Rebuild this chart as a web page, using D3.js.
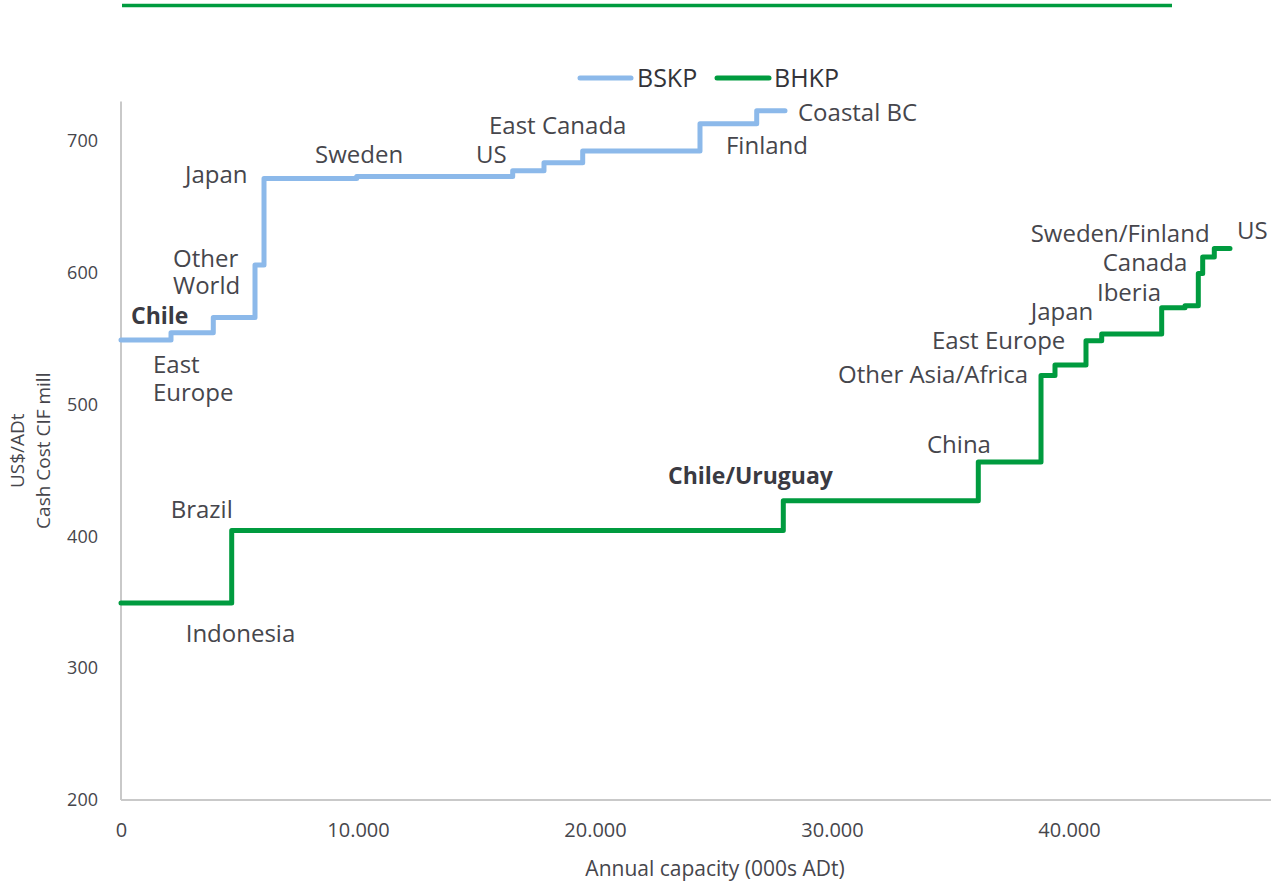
<!DOCTYPE html>
<html>
<head>
<meta charset="utf-8">
<script src="https://cdn.jsdelivr.net/npm/d3@7/dist/d3.min.js"></script>
<style>
  html, body { margin: 0; padding: 0; background: #ffffff; }
  svg { display: block; }
</style>
</head>
<body>
<svg id="chart" width="1271" height="883"></svg>
<script>
// ---------- DATA ----------
const seriesNames = ["BSKP", "BHKP"];

// BSKP: cumulative capacity at the end of each step (000s ADt) and cost (US$/ADt)
const bskpCapEnd = [2110, 3894, 5654, 6034, 9945, 16527, 17848, 19481, 24430, 26823, 28017];
const bskpCost   = [549, 554.5, 566, 606, 671.5, 673, 677.5, 683.5, 692.5, 713, 723];

// BHKP
const bhkpCapEnd = [4671, 27945, 36173, 38819, 39409, 40717, 41380, 43911, 44895, 45456, 45641, 46131, 46793];
const bhkpCost   = [349.5, 404.5, 427, 456.5, 522, 530, 548.5, 553.5, 573.5, 575, 599.5, 612, 618.5];

const xTicks = [0, 10000, 20000, 30000, 40000];
const yTicks = [200, 300, 400, 500, 600, 700];

// Region annotations (anchor in data units: capacity, cost)
const bskpLabels = [
  { text: "Japan",       cap: 2700,  cost: 668.1 },
  { text: "Sweden",      cap: 8186,  cost: 683.3 },
  { text: "Other",       cap: 2194,  cost: 604.6 },
  { text: "World",       cap: 2194,  cost: 583.9 },
  { text: "Chile",       cap: 422,   cost: 560.9, bold: true },
  { text: "East",        cap: 1350,  cost: 523.7 },
  { text: "Europe",      cap: 1350,  cost: 502.4 },
  { text: "US",          cap: 14979, cost: 683.5 },
  { text: "East Canada", cap: 15527, cost: 705.3 },
  { text: "Finland",     cap: 25527, cost: 690.1 },
  { text: "Coastal BC",  cap: 28565, cost: 715.2 }
];
const bhkpLabels = [
  { text: "Sweden/Finland",    cap: 38384, cost: 623.1 },
  { text: "US",                cap: 47089, cost: 625.4 },
  { text: "Canada",            cap: 41422, cost: 601.6 },
  { text: "Iberia",            cap: 41181, cost: 578.6 },
  { text: "Japan",             cap: 38384, cost: 564.2 },
  { text: "East Europe",       cap: 34219, cost: 542.0 },
  { text: "Other Asia/Africa", cap: 30253, cost: 516.6 },
  { text: "China",             cap: 34008, cost: 463.5 },
  { text: "Chile/Uruguay",     cap: 23080, cost: 439.8, bold: true },
  { text: "Brazil",            cap: 2097,  cost: 414.2 },
  { text: "Indonesia",         cap: 2730,  cost: 319.7 }
];

// ---------- STYLE / LAYOUT ----------
const colors = { BSKP: "#8cb9ea", BHKP: "#009b3f" };
const textColor = "#46464c";
const axisColor = "#c9c9c9";
const labelFont = "'Open Sans', 'Noto Sans', sans-serif";

const svg = d3.select("#chart");

const x = d3.scaleLinear().domain([0, 48500]).range([121, 121 + 48.5 * 23.7]);
const y = d3.scaleLinear().domain([200, 700]).range([800, 141]);
const yTop = y(730);

// top decorative rule
svg.append("line")
  .attr("x1", 122).attr("x2", 1172).attr("y1", 5.5).attr("y2", 5.5)
  .attr("stroke", colors.BHKP).attr("stroke-width", 3.5);

// axes
svg.append("line")
  .attr("x1", x(0)).attr("x2", x(0)).attr("y1", yTop).attr("y2", y(200))
  .attr("stroke", axisColor).attr("stroke-width", 2);
svg.append("line")
  .attr("x1", x(0)).attr("x2", 1271).attr("y1", y(200)).attr("y2", y(200))
  .attr("stroke", axisColor).attr("stroke-width", 2);

const fmtX = v => v === 0 ? "0" : d3.format(",")(v).replace(/,/g, ".");

const yAxis = d3.axisLeft(y).tickValues(yTicks).tickSize(0).tickPadding(0);
const gy = svg.append("g").attr("transform", "translate(98,0)").call(yAxis);
gy.select(".domain").remove();
gy.selectAll("text")
  .attr("fill", textColor)
  .style("font-family", labelFont)
  .style("font-size", "18px");

const xAxis = d3.axisBottom(x).tickValues(xTicks).tickFormat(fmtX).tickSize(0).tickPadding(0);
const gx = svg.append("g").attr("transform", "translate(0,823)").call(xAxis);
gx.select(".domain").remove();
gx.selectAll("text")
  .attr("fill", textColor)
  .style("font-family", labelFont)
  .style("font-size", "20px");

// axis titles
svg.append("text")
  .attr("x", 715).attr("y", 876)
  .attr("text-anchor", "middle")
  .attr("fill", textColor)
  .style("font-family", labelFont)
  .style("font-size", "21px")
  .text("Annual capacity (000s ADt)");

const yt = svg.append("text")
  .attr("transform", `translate(0,${(yTop + y(200)) / 2}) rotate(-90)`)
  .attr("text-anchor", "middle")
  .attr("fill", textColor)
  .style("font-family", labelFont)
  .style("font-size", "19px");
yt.append("tspan").attr("x", 0).attr("y", 24).text("US$/ADt");
yt.append("tspan").attr("x", 0).attr("y", 50).text("Cash Cost CIF mill");

// step lines
function stepPoints(ends, costs) {
  const pts = [[0, costs[0]]];
  for (let i = 1; i < costs.length; i++) pts.push([ends[i - 1], costs[i]]);
  pts.push([ends[ends.length - 1], costs[costs.length - 1]]);
  return pts;
}
const line = d3.line().x(d => x(d[0])).y(d => y(d[1])).curve(d3.curveStepAfter);

svg.append("path")
  .datum(stepPoints(bskpCapEnd, bskpCost))
  .attr("d", line)
  .attr("fill", "none")
  .attr("stroke", colors.BSKP)
  .attr("stroke-width", 5)
  .attr("stroke-linejoin", "round")
  .attr("stroke-linecap", "round");

svg.append("path")
  .datum(stepPoints(bhkpCapEnd, bhkpCost))
  .attr("d", line)
  .attr("fill", "none")
  .attr("stroke", colors.BHKP)
  .attr("stroke-width", 5)
  .attr("stroke-linejoin", "round")
  .attr("stroke-linecap", "round");

// annotations
function drawLabels(list) {
  svg.append("g").selectAll("text")
    .data(list).join("text")
    .attr("x", d => x(d.cap))
    .attr("y", d => y(d.cost))
    .attr("fill", d => d.bold ? "#3a3a42" : textColor)
    .style("font-family", labelFont)
    .style("font-size", d => d.bold ? "23px" : "24px")
    .style("font-weight", d => d.bold ? 700 : 400)
    .text(d => d.text);
}
drawLabels(bskpLabels);
drawLabels(bhkpLabels);

// legend
const legend = [
  { name: seriesNames[0], x1: 580, x2: 631, tx: 637 },
  { name: seriesNames[1], x1: 717, x2: 769, tx: 774 }
];
const lg = svg.append("g");
legend.forEach(l => {
  lg.append("line")
    .attr("x1", l.x1).attr("x2", l.x2).attr("y1", 78).attr("y2", 78)
    .attr("stroke", colors[l.name]).attr("stroke-width", 5).attr("stroke-linecap", "round");
  lg.append("text")
    .attr("x", l.tx).attr("y", 87)
    .attr("fill", "#333338")
    .style("font-family", labelFont)
    .style("font-size", "25px")
    .text(l.name);
});
</script>
</body>
</html>
